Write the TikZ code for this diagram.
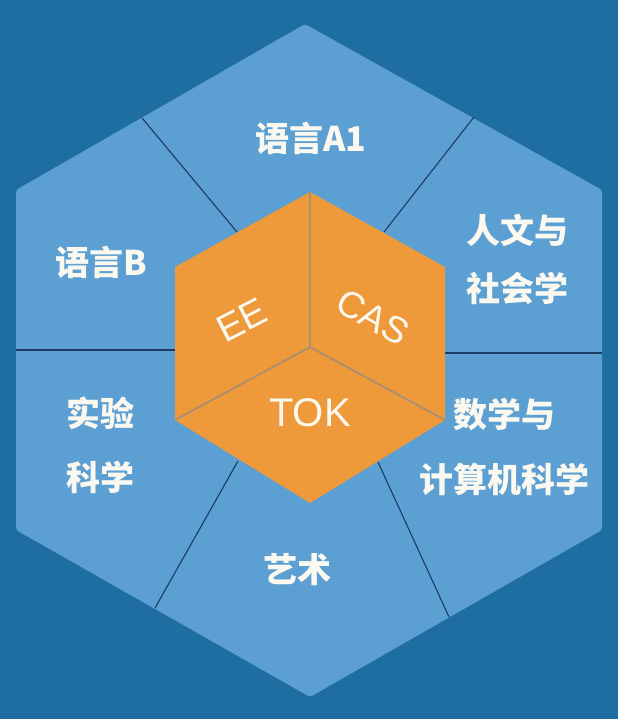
\documentclass[tikz,border=0pt]{standalone}
\usepackage{fontspec}
\newfontfamily\cjk{Noto Sans CJK SC}
\newfontfamily\latin{Liberation Sans}
\definecolor{bgblue}{HTML}{1F6EA1}
\definecolor{hexblue}{HTML}{5C9FD2}
\definecolor{cubeorange}{HTML}{EF9A3A}
\definecolor{divline}{HTML}{1B3C63}
\definecolor{edgeline}{HTML}{A88F72}
\definecolor{labelwhite}{HTML}{FBF8F0}
\begin{document}
\begin{tikzpicture}[x=1pt, y=-1pt]
\tikzstyle{every node} = [text=labelwhite, inner sep=0pt]
\tikzstyle{subject} = [font=\cjk\bfseries\fontsize{34}{60}\selectfont, align=center]
\tikzstyle{core} = [font=\latin\fontsize{40}{40}\selectfont]
\fill[bgblue] (0,0) rectangle (618,719);
\useasboundingbox (0,0) rectangle (618,719);
% outer hexagon
\coordinate (o1) at (305,24);
\coordinate (o2) at (16,190);
\coordinate (o3) at (16,530);
\coordinate (o4) at (310,697);
\coordinate (o5) at (602,530);
\coordinate (o6) at (602,190);
\fill[hexblue, rounded corners=3pt] (o1) -- (o2) -- (o3) -- (o4) -- (o5) -- (o6) -- cycle;
% sector lines
\coordinate (d1a) at (237,232); \coordinate (d1b) at (142,118);
\coordinate (d2a) at (384,232); \coordinate (d2b) at (474,117);
\coordinate (d3a) at (180,350); \coordinate (d3b) at (16,350);
\coordinate (d4a) at (440,353); \coordinate (d4b) at (602,353);
\coordinate (d5a) at (238,461); \coordinate (d5b) at (155,608);
\coordinate (d6a) at (378,462); \coordinate (d6b) at (449,617);
\foreach \d in {d1, d2, d3, d4, d5, d6}
\draw [divline, line width=1.1pt] (\d a) -- (\d b);
% cube
\coordinate (c1) at (310,192);
\coordinate (c2) at (175,267);
\coordinate (c3) at (175,420);
\coordinate (c4) at (310,503);
\coordinate (c5) at (445,420);
\coordinate (c6) at (445,267);
\coordinate (cc) at (310,347);
\fill[cubeorange] (c1) -- (c2) -- (c3) -- (c4) -- (c5) -- (c6) -- cycle;
\foreach \to in {c1, c3, c5}
\draw [edgeline, line width=1.8pt] (cc) -- (\to);
% labels
\node[subject] (langa) at (311,138) {语言A1};
\node[subject] (langb) at (101,262) {语言B};
\node[subject, font=\cjk\bfseries\fontsize{34}{58}\selectfont] (hum) at (517,259) {人文与\\社会学};
\node[subject, font=\cjk\bfseries\fontsize{34}{64}\selectfont] (sci) at (100,445) {实验\\科学};
\node[subject, font=\cjk\bfseries\fontsize{34}{65}\selectfont] (math) at (504,447) {数学与\\计算机科学};
\node[subject] (arts) at (297,570) {艺术};
\node[core] (tok) at (310,413) {TOK};
\node[core, rotate=27, font=\latin\fontsize{38}{38}\selectfont] (ee) at (242,320) {EE};
\node[core, rotate=-30, font=\latin\fontsize{37}{37}\selectfont] (cas) at (373,317) {CAS};
\end{tikzpicture}
\end{document}
